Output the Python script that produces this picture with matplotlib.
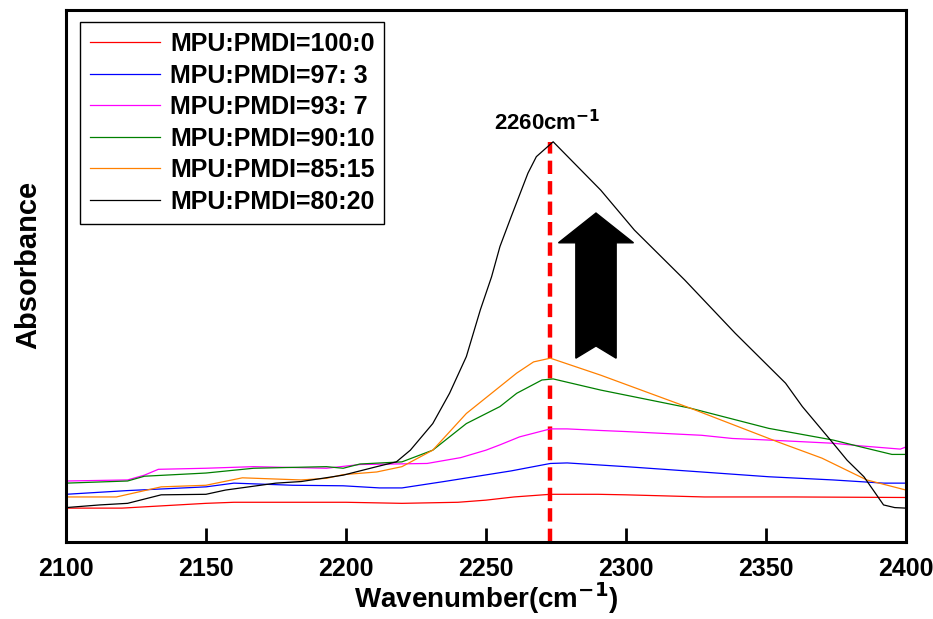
import matplotlib
matplotlib.use("Agg")
import matplotlib.pyplot as plt
from matplotlib.patches import Polygon

plt.rcParams["font.family"] = ["Liberation Sans", "DejaVu Sans"]
plt.rcParams["font.weight"] = "bold"

# Spectra (wavenumber, absorbance in a.u.)
x_100_0 = [2100, 2120, 2140, 2150, 2160, 2200, 2220, 2240, 2250, 2260, 2273, 2290, 2300, 2328, 2360, 2400]
y_100_0 = [6.3, 6.3, 6.9, 7.2, 7.4, 7.4, 7.2, 7.4, 7.8, 8.4, 8.9, 8.9, 8.8, 8.4, 8.4, 8.3]

x_97_3 = [2100, 2122, 2150, 2160, 2181, 2199, 2212, 2220, 2235, 2259, 2273, 2279, 2300, 2327, 2351, 2374, 2392, 2400]
y_97_3 = [8.9, 9.6, 10.3, 11.0, 10.6, 10.5, 10.1, 10.1, 11.3, 13.3, 14.7, 14.8, 14.1, 13.1, 12.2, 11.6, 11.0, 11.0]

x_93_7 = [2100, 2122, 2128, 2133, 2150, 2167, 2193, 2205, 2229, 2241, 2250, 2255, 2262, 2273, 2279, 2291,
          2300, 2327, 2338, 2351, 2374, 2384, 2398, 2400]
y_93_7 = [11.4, 11.6, 12.5, 13.6, 13.8, 14.1, 13.8, 14.5, 14.7, 15.8, 17.2, 18.2, 19.7, 21.2, 21.2, 20.9,
          20.7, 20.0, 19.4, 19.1, 18.5, 18.0, 17.4, 17.8]

x_90_10 = [2100, 2122, 2128, 2150, 2167, 2193, 2199, 2205, 2220, 2231, 2243, 2255, 2261, 2270, 2274, 2291,
           2323, 2351, 2374, 2384, 2395, 2400]
y_90_10 = [11.0, 11.4, 12.3, 12.9, 13.8, 14.1, 13.8, 14.6, 15.0, 17.2, 22.2, 25.4, 27.9, 30.4, 30.6, 28.5,
           25.1, 21.3, 19.1, 17.8, 16.4, 16.4]

x_85_15 = [2100, 2118, 2134, 2150, 2163, 2184, 2193, 2199, 2211, 2220, 2231, 2243, 2252, 2261, 2267, 2273,
           2291, 2323, 2354, 2370, 2386, 2400]
y_85_15 = [8.4, 8.4, 10.3, 10.6, 12.0, 11.6, 11.9, 12.6, 13.1, 14.1, 17.2, 24.1, 27.9, 31.7, 33.8, 34.5,
           31.3, 25.1, 18.8, 15.7, 11.6, 9.7]

x_80_20 = [2100, 2112, 2122, 2134, 2150, 2157, 2175, 2184, 2199, 2211, 2218, 2223, 2231, 2237, 2243, 2248,
           2252, 2255, 2259, 2265, 2268, 2274, 2291, 2303, 2321, 2339, 2357, 2363, 2374, 2379, 2385, 2392,
           2396, 2400]
y_80_20 = [6.4, 6.9, 7.2, 8.8, 8.9, 9.7, 11.0, 11.3, 12.5, 14.1, 15.0, 17.2, 22.2, 27.9, 34.8, 43.6,
           49.8, 55.5, 61.1, 69.3, 72.4, 75.2, 66.1, 58.6, 49.2, 39.2, 29.8, 25.4, 18.5, 15.3, 12.2, 6.9,
           6.4, 6.3]

series = [
    ("MPU:PMDI=100:0", x_100_0, y_100_0, "#ff0000"),
    ("MPU:PMDI=97: 3", x_97_3, y_97_3, "#0000ff"),
    ("MPU:PMDI=93: 7", x_93_7, y_93_7, "#ff00ff"),
    ("MPU:PMDI=90:10", x_90_10, y_90_10, "#008000"),
    ("MPU:PMDI=85:15", x_85_15, y_85_15, "#ff8000"),
    ("MPU:PMDI=80:20", x_80_20, y_80_20, "#000000"),
]

peak_x = 2273
peak_y = 75.2

fig = plt.figure(figsize=(9.33, 6.19), dpi=100)
ax = fig.add_axes([0.0707, 0.125, 0.9003, 0.859])

for label, xs, ys, c in series:
    ax.plot(xs, ys, color=c, lw=0.9, label=label)

# marker for the NCO band
ax.plot([peak_x, peak_x], [0, peak_y], color="red", lw=3.2, ls=(0, (3, 1.6)), zorder=1)
ax.text(peak_x - 1, 76.4, "2260cm$^{\\mathbf{-1}}$", ha="center", va="bottom", fontsize=16, fontweight="bold")

# big up arrow
ax_c, tip, head_base, tail, notch = 2289.3, 61.8, 56.2, 34.5, 36.8
hw, sw = 13.4, 7.2
arrow = Polygon([(ax_c, tip), (ax_c + hw, head_base), (ax_c + sw, head_base), (ax_c + sw, tail),
                 (ax_c, notch), (ax_c - sw, tail), (ax_c - sw, head_base), (ax_c - hw, head_base)],
                closed=True, facecolor="black", edgecolor="black", lw=1)
ax.add_patch(arrow)

ax.set_xlim(2100, 2400)
ax.set_ylim(0, 100)
ax.set_xticks([2100, 2150, 2200, 2250, 2300, 2350, 2400])
ax.set_yticks([])
ax.tick_params(axis="x", direction="in", length=10, width=2, labelsize=18, pad=11)
for lab in ax.get_xticklabels():
    lab.set_fontweight("bold")
for s in ax.spines.values():
    s.set_linewidth(2.2)

ax.set_xlabel("Wavenumber(cm$^{\\mathbf{-1}}$)", fontsize=20, fontweight="bold")
ax.set_ylabel("Absorbance", fontsize=21, fontweight="bold")
ax.xaxis.set_label_coords(0.5, -0.073)
ax.yaxis.set_label_coords(-0.028, 0.52)

leg = ax.legend(loc="upper left", bbox_to_anchor=(0.0167, 0.977), borderaxespad=0,
                handlelength=2.8, handletextpad=0.4, labelspacing=0.3, fancybox=False,
                edgecolor="black", framealpha=1, prop={"weight": "bold", "size": 18})
leg.get_frame().set_linewidth(1.0)

plt.savefig("out.png", dpi=100)
